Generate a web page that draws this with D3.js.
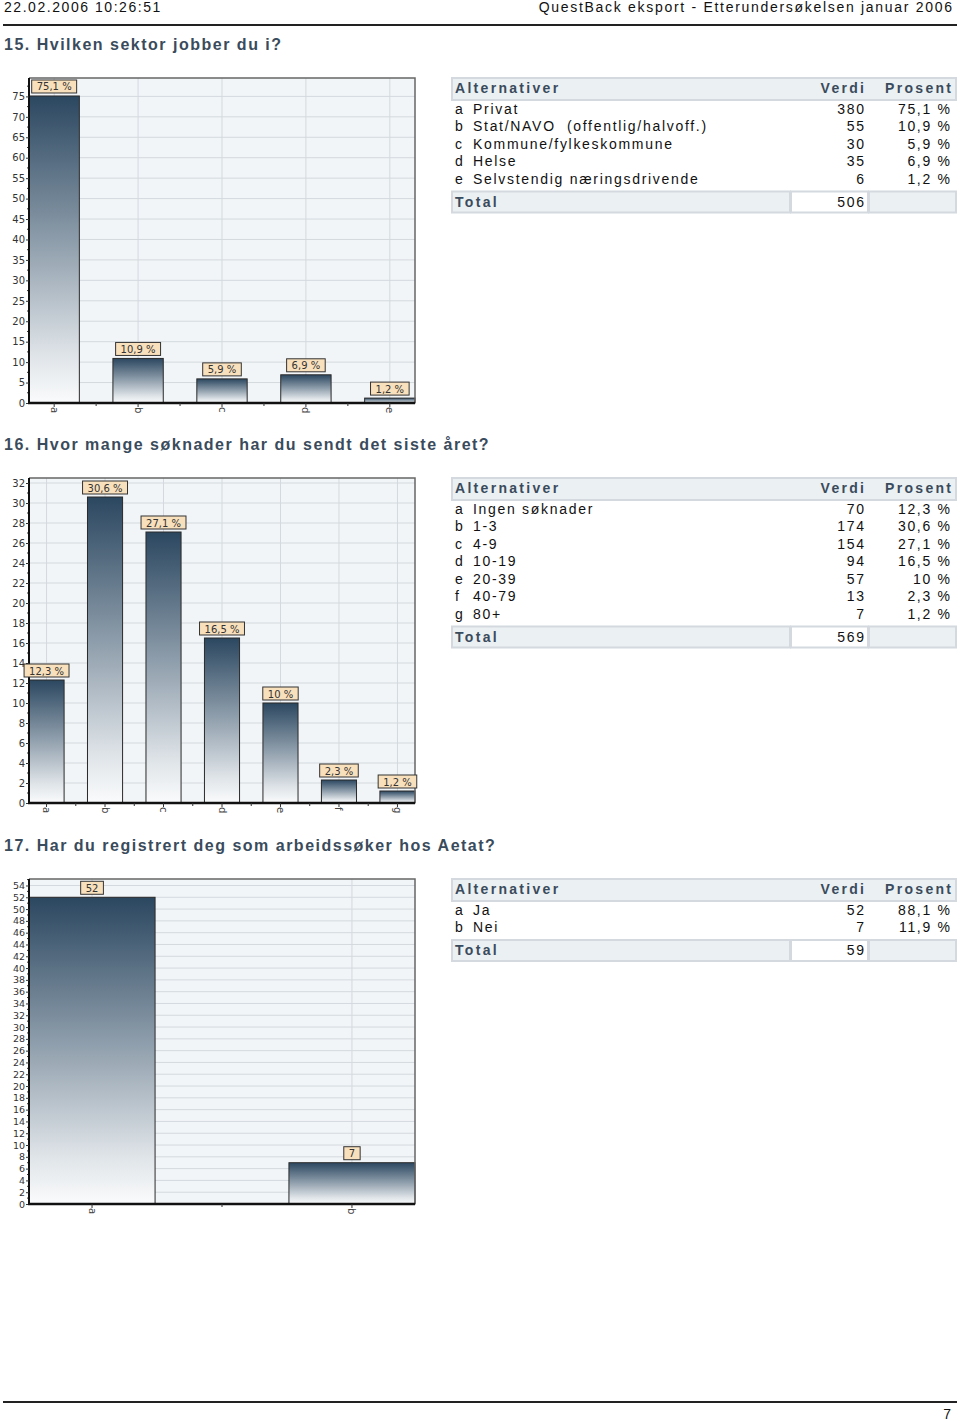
<!DOCTYPE html>
<html><head><meta charset="utf-8">
<script src="https://cdn.jsdelivr.net/npm/d3@7"></script>
<style>
html,body{margin:0;padding:0;background:#fff;}
svg{display:block;}
</style></head><body>
<script>
// ---------- DATA ----------
const pageHeaderLeft = "22.02.2006 10:26:51";
const pageHeaderRight = "QuestBack eksport - Etterundersøkelsen januar 2006";
const pageNumber = "7";
const tableHeaders = ["Alternativer", "Verdi", "Prosent"];
const totalLabel = "Total";

const q15Title = "15. Hvilken sektor jobber du i?";
const q15Letters = ["a", "b", "c", "d", "e"];
const q15Options = ["Privat", "Stat/NAVO  (offentlig/halvoff.)", "Kommune/fylkeskommune", "Helse", "Selvstendig næringsdrivende"];
const q15Values = [380, 55, 30, 35, 6];
const q15Percents = [75.1, 10.9, 5.9, 6.9, 1.2];
const q15Total = 506;
const q15YTicks = [0, 5, 10, 15, 20, 25, 30, 35, 40, 45, 50, 55, 60, 65, 70, 75];
const q15YMax = 79.5;

const q16Title = "16. Hvor mange søknader har du sendt det siste året?";
const q16Letters = ["a", "b", "c", "d", "e", "f", "g"];
const q16Options = ["Ingen søknader", "1-3", "4-9", "10-19", "20-39", "40-79", "80+"];
const q16Values = [70, 174, 154, 94, 57, 13, 7];
const q16Percents = [12.3, 30.6, 27.1, 16.5, 10, 2.3, 1.2];
const q16Total = 569;
const q16YTicks = [0, 2, 4, 6, 8, 10, 12, 14, 16, 18, 20, 22, 24, 26, 28, 30, 32];
const q16YMax = 32.5;

const q17Title = "17. Har du registrert deg som arbeidssøker hos Aetat?";
const q17Letters = ["a", "b"];
const q17Options = ["Ja", "Nei"];
const q17Values = [52, 7];
const q17Percents = [88.1, 11.9];
const q17Total = 59;
const q17YTicks = [0, 2, 4, 6, 8, 10, 12, 14, 16, 18, 20, 22, 24, 26, 28, 30, 32, 34, 36, 38, 40, 42, 44, 46, 48, 50, 52, 54];
const q17YMax = 55.1;

// ---------- HELPERS ----------
const fmtPct = v => (Number.isInteger(v) ? String(v) : v.toFixed(1).replace(".", ",")) + " %";
const SANS = "'Liberation Sans', Arial, Helvetica, sans-serif";
const VERD = "'DejaVu Sans', Verdana, sans-serif";

const W = 960, H = 1421;
const svg = d3.select("body").append("svg").attr("width", W).attr("height", H);
svg.append("rect").attr("width", W).attr("height", H).attr("fill", "#fff");

const defs = svg.append("defs");
const grad = defs.append("linearGradient").attr("id", "barGrad")
  .attr("x1", 0).attr("y1", 0).attr("x2", 0).attr("y2", 1);
[["0", "#2b4760"], ["0.38", "#7a8c9c"], ["0.62", "#aeb9c3"], ["0.85", "#e0e5e9"], ["1", "#fafbfc"]]
  .forEach(([o, c]) => grad.append("stop").attr("offset", o).attr("stop-color", c));

// page header
svg.append("text").attr("x", 4).attr("y", 12).attr("font-family", SANS).attr("font-size", 14)
  .attr("letter-spacing", 1.55).attr("fill", "#111").text(pageHeaderLeft);
svg.append("text").attr("x", 952 + 1.7).attr("y", 12).attr("text-anchor", "end").attr("font-family", SANS)
  .attr("font-size", 14).attr("letter-spacing", 1.7).attr("fill", "#111").text(pageHeaderRight);
svg.append("line").attr("x1", 3).attr("x2", 957).attr("y1", 25).attr("y2", 25)
  .attr("stroke", "#222").attr("stroke-width", 2);

// footer
svg.append("line").attr("x1", 3).attr("x2", 957).attr("y1", 1402).attr("y2", 1402)
  .attr("stroke", "#222").attr("stroke-width", 2);
svg.append("text").attr("x", 951).attr("y", 1419).attr("text-anchor", "end").attr("font-family", SANS)
  .attr("font-size", 14).attr("fill", "#111").text(pageNumber);

function drawQuestion(spec) {
  const top = spec.top, bottom = top + 325;
  const left = 29, right = 415;
  const g = svg.append("g");

  // title
  g.append("text").attr("x", 4).attr("y", top - 28).attr("font-family", SANS).attr("font-weight", "bold")
    .attr("font-size", 16).attr("letter-spacing", 1.5).attr("fill", "#3a4b5c").text(spec.title);

  const y = d3.scaleLinear().domain([0, spec.yMax]).range([bottom, top]);
  const x = d3.scaleBand().domain(spec.letters).range([left, right]).paddingInner(spec.pad).paddingOuter(0);

  g.append("rect").attr("x", left).attr("y", top).attr("width", right - left).attr("height", bottom - top)
    .attr("fill", "#f2f5f7");

  // grid
  g.append("g").selectAll("line").data(spec.yTicks.filter(t => t > 0)).join("line")
    .attr("x1", left).attr("x2", right).attr("y1", d => y(d)).attr("y2", d => y(d))
    .attr("stroke", "#d3d9de").attr("stroke-width", 1);
  g.append("g").selectAll("line").data(spec.letters).join("line")
    .attr("x1", d => x(d) + x.bandwidth() / 2).attr("x2", d => x(d) + x.bandwidth() / 2)
    .attr("y1", top).attr("y2", bottom).attr("stroke", "#d3d9de").attr("stroke-width", 1);

  // bars
  g.append("g").selectAll("rect").data(spec.letters).join("rect")
    .attr("x", d => x(d)).attr("width", x.bandwidth())
    .attr("y", (d, i) => y(spec.barValues[i])).attr("height", (d, i) => bottom - y(spec.barValues[i]))
    .attr("fill", "url(#barGrad)").attr("stroke", "#2a2a2a").attr("stroke-width", 1);

  // frame top/right
  g.append("path").attr("d", `M${left},${top}H${right}V${bottom}`).attr("fill", "none")
    .attr("stroke", "#666").attr("stroke-width", 1.5);

  // minor y ticks
  const step = spec.yTicks[1] - spec.yTicks[0];
  const minors = spec.yTicks.map(t => t + step / 2).filter(t => t < spec.yMax);
  g.append("g").selectAll("line").data(minors).join("line")
    .attr("x1", left - 2).attr("x2", left).attr("y1", d => y(d)).attr("y2", d => y(d))
    .attr("stroke", "#333").attr("stroke-width", 1);

  // y axis
  const ya = g.append("g").attr("transform", `translate(${left},0)`)
    .call(d3.axisLeft(y).tickValues(spec.yTicks).tickSize(3).tickPadding(1).tickSizeOuter(0));
  ya.select(".domain").attr("stroke", "#111").attr("stroke-width", 2).attr("d", `M0,${top}V${bottom + 1}`);
  ya.selectAll(".tick line").attr("stroke", "#333");
  ya.selectAll(".tick text").attr("font-family", VERD).attr("font-size", spec.yFont).attr("fill", "#333");

  // x axis
  const xa = g.append("g").attr("transform", `translate(0,${bottom})`)
    .call(d3.axisBottom(x).tickSize(4).tickSizeOuter(0));
  xa.select(".domain").attr("stroke", "#111").attr("stroke-width", 2.5).attr("d", `M${left - 1},0H${right}`);
  xa.selectAll(".tick line").attr("stroke", "#333");
  xa.selectAll(".tick text").attr("font-family", VERD).attr("font-size", 10).attr("fill", "#444")
    .attr("transform", "rotate(90)").attr("text-anchor", "start").attr("dy", "0.35em").attr("x", 4).attr("y", 0);
  const mids = spec.letters.slice(1).map(d => x(d) - (x.step() - x.bandwidth()) / 2);
  g.append("g").selectAll("line").data(mids).join("line")
    .attr("x1", d => d).attr("x2", d => d).attr("y1", bottom).attr("y2", bottom + 3)
    .attr("stroke", "#333");

  // value label boxes
  spec.letters.forEach((d, i) => {
    const cx = x(d) + x.bandwidth() / 2;
    const by = y(spec.barValues[i]) - 3;
    const lg = g.append("g");
    const r = lg.append("rect");
    const t = lg.append("text").attr("x", cx).attr("y", by - 2.5).attr("text-anchor", "middle")
      .attr("font-family", VERD).attr("font-size", 10).attr("fill", "#333").text(spec.barLabels[i]);
    const tw = t.node().getComputedTextLength();
    r.attr("x", cx - tw / 2 - 5).attr("y", by - 13).attr("width", tw + 10).attr("height", 13)
      .attr("fill", "#f9e0bc").attr("stroke", "#333").attr("stroke-width", 1);
  });

  // table
  const tx0 = 452, tx1 = 956;
  const tg = g.append("g").attr("font-family", SANS).attr("font-size", 14);
  tg.append("rect").attr("x", tx0).attr("y", top).attr("width", tx1 - tx0).attr("height", 22)
    .attr("fill", "#ebf0f3").attr("stroke", "#d3d9de").attr("stroke-width", 2);
  const hb = top + 15;
  tg.append("text").attr("x", 455).attr("y", hb).attr("font-weight", "bold").attr("letter-spacing", 2.3)
    .attr("fill", "#3a4b5c").text(tableHeaders[0]);
  tg.append("text").attr("x", 864 + 2.3).attr("y", hb).attr("text-anchor", "end").attr("font-weight", "bold")
    .attr("letter-spacing", 2.3).attr("fill", "#3a4b5c").text(tableHeaders[1]);
  tg.append("text").attr("x", 951 + 2.3).attr("y", hb).attr("text-anchor", "end").attr("font-weight", "bold")
    .attr("letter-spacing", 2.3).attr("fill", "#3a4b5c").text(tableHeaders[2]);

  const rowB = i => top + 35.5 + i * 17.5;
  spec.letters.forEach((d, i) => {
    const yb = rowB(i);
    tg.append("text").attr("x", 455).attr("y", yb).attr("letter-spacing", 1.7).attr("fill", "#111").text(d);
    tg.append("text").attr("x", 473).attr("y", yb).attr("letter-spacing", 1.7).attr("fill", "#111")
      .style("white-space", "pre").text(spec.options[i]);
    tg.append("text").attr("x", 864 + 1.7).attr("y", yb).attr("text-anchor", "end").attr("letter-spacing", 1.7)
      .attr("fill", "#111").text(spec.values[i]);
    tg.append("text").attr("x", 950 + 1.7).attr("y", yb).attr("text-anchor", "end").attr("letter-spacing", 1.7)
      .attr("fill", "#111").text(fmtPct(spec.percents[i]));
  });
  const tt = rowB(spec.letters.length - 1) + 8;
  tg.append("rect").attr("x", tx0).attr("y", tt).attr("width", 338).attr("height", 21)
    .attr("fill", "#ebf0f3").attr("stroke", "#d3d9de").attr("stroke-width", 2);
  tg.append("rect").attr("x", 791).attr("y", tt).attr("width", 77).attr("height", 21)
    .attr("fill", "#fff").attr("stroke", "#d3d9de").attr("stroke-width", 2);
  tg.append("rect").attr("x", 869).attr("y", tt).attr("width", tx1 - 869).attr("height", 21)
    .attr("fill", "#ebf0f3").attr("stroke", "#d3d9de").attr("stroke-width", 2);
  tg.append("text").attr("x", 455).attr("y", tt + 15).attr("font-weight", "bold").attr("letter-spacing", 2.3)
    .attr("fill", "#3a4b5c").text(totalLabel);
  tg.append("text").attr("x", 864 + 1.7).attr("y", tt + 15).attr("text-anchor", "end").attr("letter-spacing", 1.7)
    .attr("fill", "#111").text(spec.total);
}

drawQuestion({
  top: 78, title: q15Title, letters: q15Letters, options: q15Options, values: q15Values,
  percents: q15Percents, total: q15Total, barValues: q15Percents, barLabels: q15Percents.map(fmtPct),
  yMax: q15YMax, yTicks: q15YTicks, pad: 0.4, yFont: 10
});
drawQuestion({
  top: 478, title: q16Title, letters: q16Letters, options: q16Options, values: q16Values,
  percents: q16Percents, total: q16Total, barValues: q16Percents, barLabels: q16Percents.map(fmtPct),
  yMax: q16YMax, yTicks: q16YTicks, pad: 0.4, yFont: 10
});
drawQuestion({
  top: 879, title: q17Title, letters: q17Letters, options: q17Options, values: q17Values,
  percents: q17Percents, total: q17Total, barValues: q17Values, barLabels: q17Values.map(String),
  yMax: q17YMax, yTicks: q17YTicks, pad: 0.515, yFont: 9.5
});
</script>
</body></html>
